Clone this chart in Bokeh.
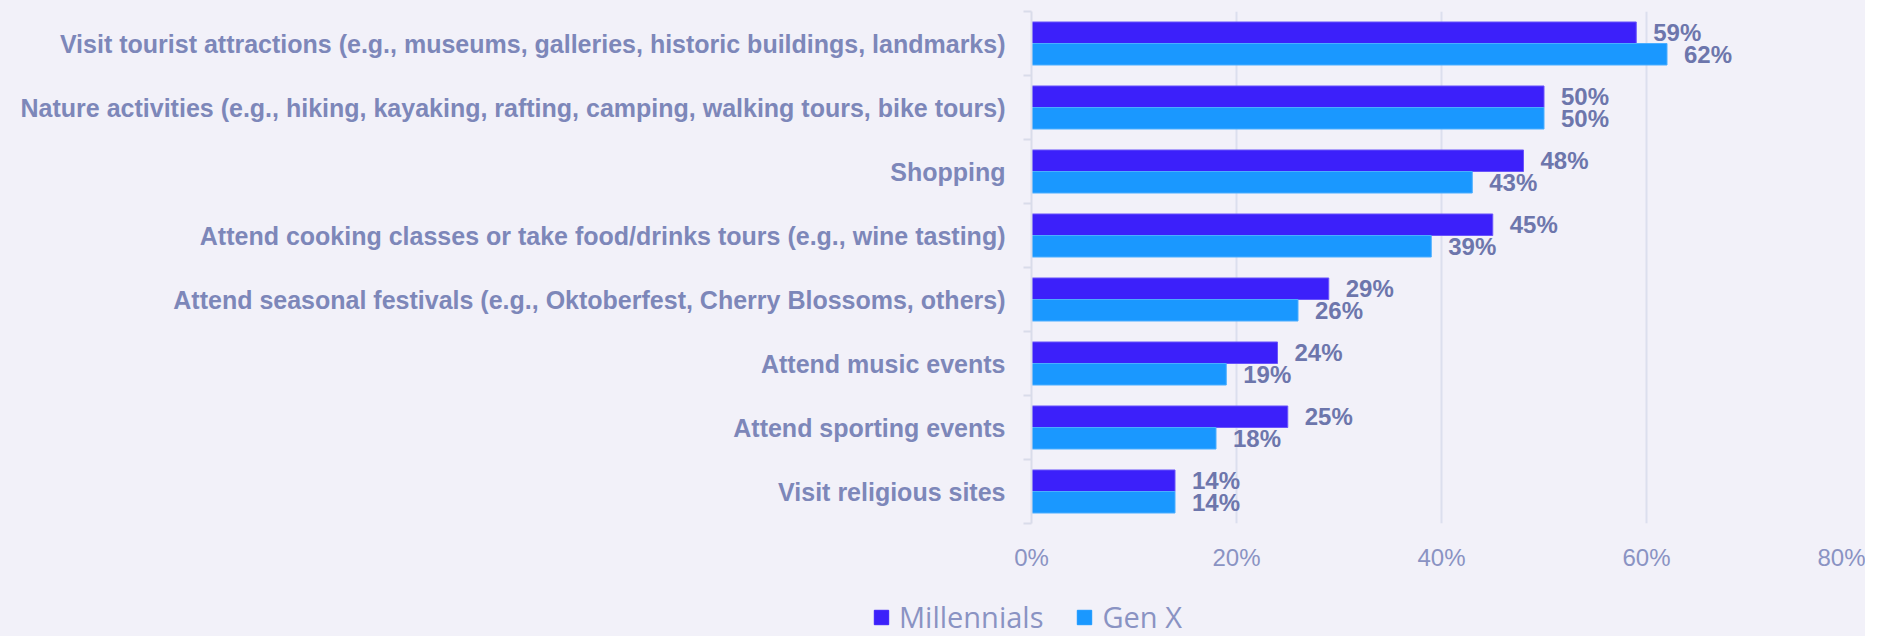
from bokeh.plotting import figure
from bokeh.layouts import column
from bokeh.models import Range1d, FixedTicker, Legend, LegendItem, ColumnDataSource
from bokeh.core.properties import value
from bokeh.embed import file_html
from bokeh.resources import INLINE

categories = [
    "Visit tourist attractions (e.g., museums, galleries, historic buildings, landmarks)",
    "Nature activities (e.g., hiking, kayaking, rafting, camping, walking tours, bike tours)",
    "Shopping",
    "Attend cooking classes or take food/drinks tours (e.g., wine tasting)",
    "Attend seasonal festivals (e.g., Oktoberfest, Cherry Blossoms, others)",
    "Attend music events",
    "Attend sporting events",
    "Visit religious sites",
]
series_names = ["Millennials", "Gen X"]
millennials = [59, 50, 48, 45, 29, 24, 25, 14]
gen_x = [62, 50, 43, 39, 26, 19, 18, 14]
x_ticks = [0, 20, 40, 60, 80]
x_tick_labels = ["0%", "20%", "40%", "60%", "80%"]

BG = "#f2f1f9"
LABEL_COLOR = "#7d87b9"
VALUE_COLOR = "#6d76ac"
TICK_COLOR = "#8a93c3"
GRID_COLOR = "#dcdfee"
C_MIL = "#3c20fa"
C_GX = "#1a98ff"

n = len(categories)
idx = list(range(n))
bar_h = 0.336

main = figure(width=1865, height=590, output_backend="svg", toolbar_location=None,
              x_range=Range1d(0, 80), y_range=Range1d(n - 0.5, -0.5),
              min_border_left=1031, min_border_right=14, min_border_top=11,
              min_border_bottom=67)
main.background_fill_color = BG
main.border_fill_color = BG
main.outline_line_color = None
main.frame_align = False

src_m = ColumnDataSource(dict(y=[i - bar_h / 2 for i in idx], v=millennials,
                              t=[f"{v}%" for v in millennials]))
src_g = ColumnDataSource(dict(y=[i + bar_h / 2 for i in idx], v=gen_x,
                              t=[f"{v}%" for v in gen_x]))

main.hbar(y="y", right="v", left=0, height=bar_h, source=src_m,
          fill_color=C_MIL, line_color="#6a55fb", line_width=1)
main.hbar(y="y", right="v", left=0, height=bar_h, source=src_g,
          fill_color=C_GX, line_color="#4aaeff", line_width=1)

for src in (src_m, src_g):
    main.text(x="v", y="y", text="t", source=src, x_offset=17, text_align="left",
              text_baseline="middle", text_font=value("Liberation Sans"),
              text_font_style="bold", text_font_size="24px", text_color=VALUE_COLOR)

# x axis
xa = main.xaxis[0]
xa.ticker = FixedTicker(ticks=x_ticks)
xa.major_label_overrides = {t: l for t, l in zip(x_ticks, x_tick_labels)}
xa.axis_line_color = None
xa.major_tick_line_color = None
xa.minor_tick_line_color = None
xa.major_label_standoff = 14
xa.major_label_text_font = "Liberation Sans"
xa.major_label_text_font_size = "24px"
xa.major_label_text_color = TICK_COLOR

# y axis
ya = main.yaxis[0]
ya.ticker = FixedTicker(ticks=idx, minor_ticks=[i - 0.5 for i in range(n + 1)])
ya.major_label_overrides = {i: c for i, c in zip(idx, categories)}
ya.axis_line_color = "#d9dcea"
ya.axis_line_width = 2
ya.major_tick_line_color = None
ya.major_tick_out = 0
ya.major_tick_in = 0
ya.minor_tick_line_color = "#d9dcea"
ya.minor_tick_line_width = 2
ya.minor_tick_out = 8
ya.minor_tick_in = 0
ya.major_label_standoff = 18
ya.major_label_text_font = "Liberation Sans"
ya.major_label_text_font_style = "bold"
ya.major_label_text_font_size = "25px"
ya.major_label_text_color = LABEL_COLOR

main.xgrid.grid_line_color = GRID_COLOR
main.xgrid.grid_line_width = 2
main.xgrid.ticker = FixedTicker(ticks=x_ticks[1:])
main.ygrid.grid_line_color = None

# legend strip
leg = figure(width=1865, height=46, output_backend="svg", toolbar_location=None,
             x_range=Range1d(0, 1), y_range=Range1d(0, 1),
             x_axis_type=None, y_axis_type=None,
             min_border_left=0, min_border_right=0, min_border_top=0,
             min_border_bottom=0)
leg.background_fill_color = BG
leg.border_fill_color = BG
leg.outline_line_color = None
leg.grid.visible = False
leg.frame_align = False
# legend key renderers (kept outside the visible range)
lr_m = leg.rect(x=[-5], y=[-5], width=1, height=1, fill_color=C_MIL, line_color=C_MIL)
lr_g = leg.rect(x=[-5], y=[-5], width=1, height=1, fill_color=C_GX, line_color=C_GX)

legend = Legend(items=[LegendItem(label=series_names[0], renderers=[lr_m]),
                       LegendItem(label=series_names[1], renderers=[lr_g])],
                orientation="horizontal", location=(872, 0),
                padding=0, margin=0, spacing=32, label_standoff=9,
                glyph_width=18, glyph_height=18, label_height=20,
                label_text_font="Open Sans", label_text_font_size="29px",
                label_text_color=TICK_COLOR,
                border_line_color=None, background_fill_alpha=0)
leg.add_layout(legend, "center")

p = column(main, leg, spacing=0)
p.styles = {"background-color": BG}

open("out.html", "w").write(file_html(p, INLINE))
